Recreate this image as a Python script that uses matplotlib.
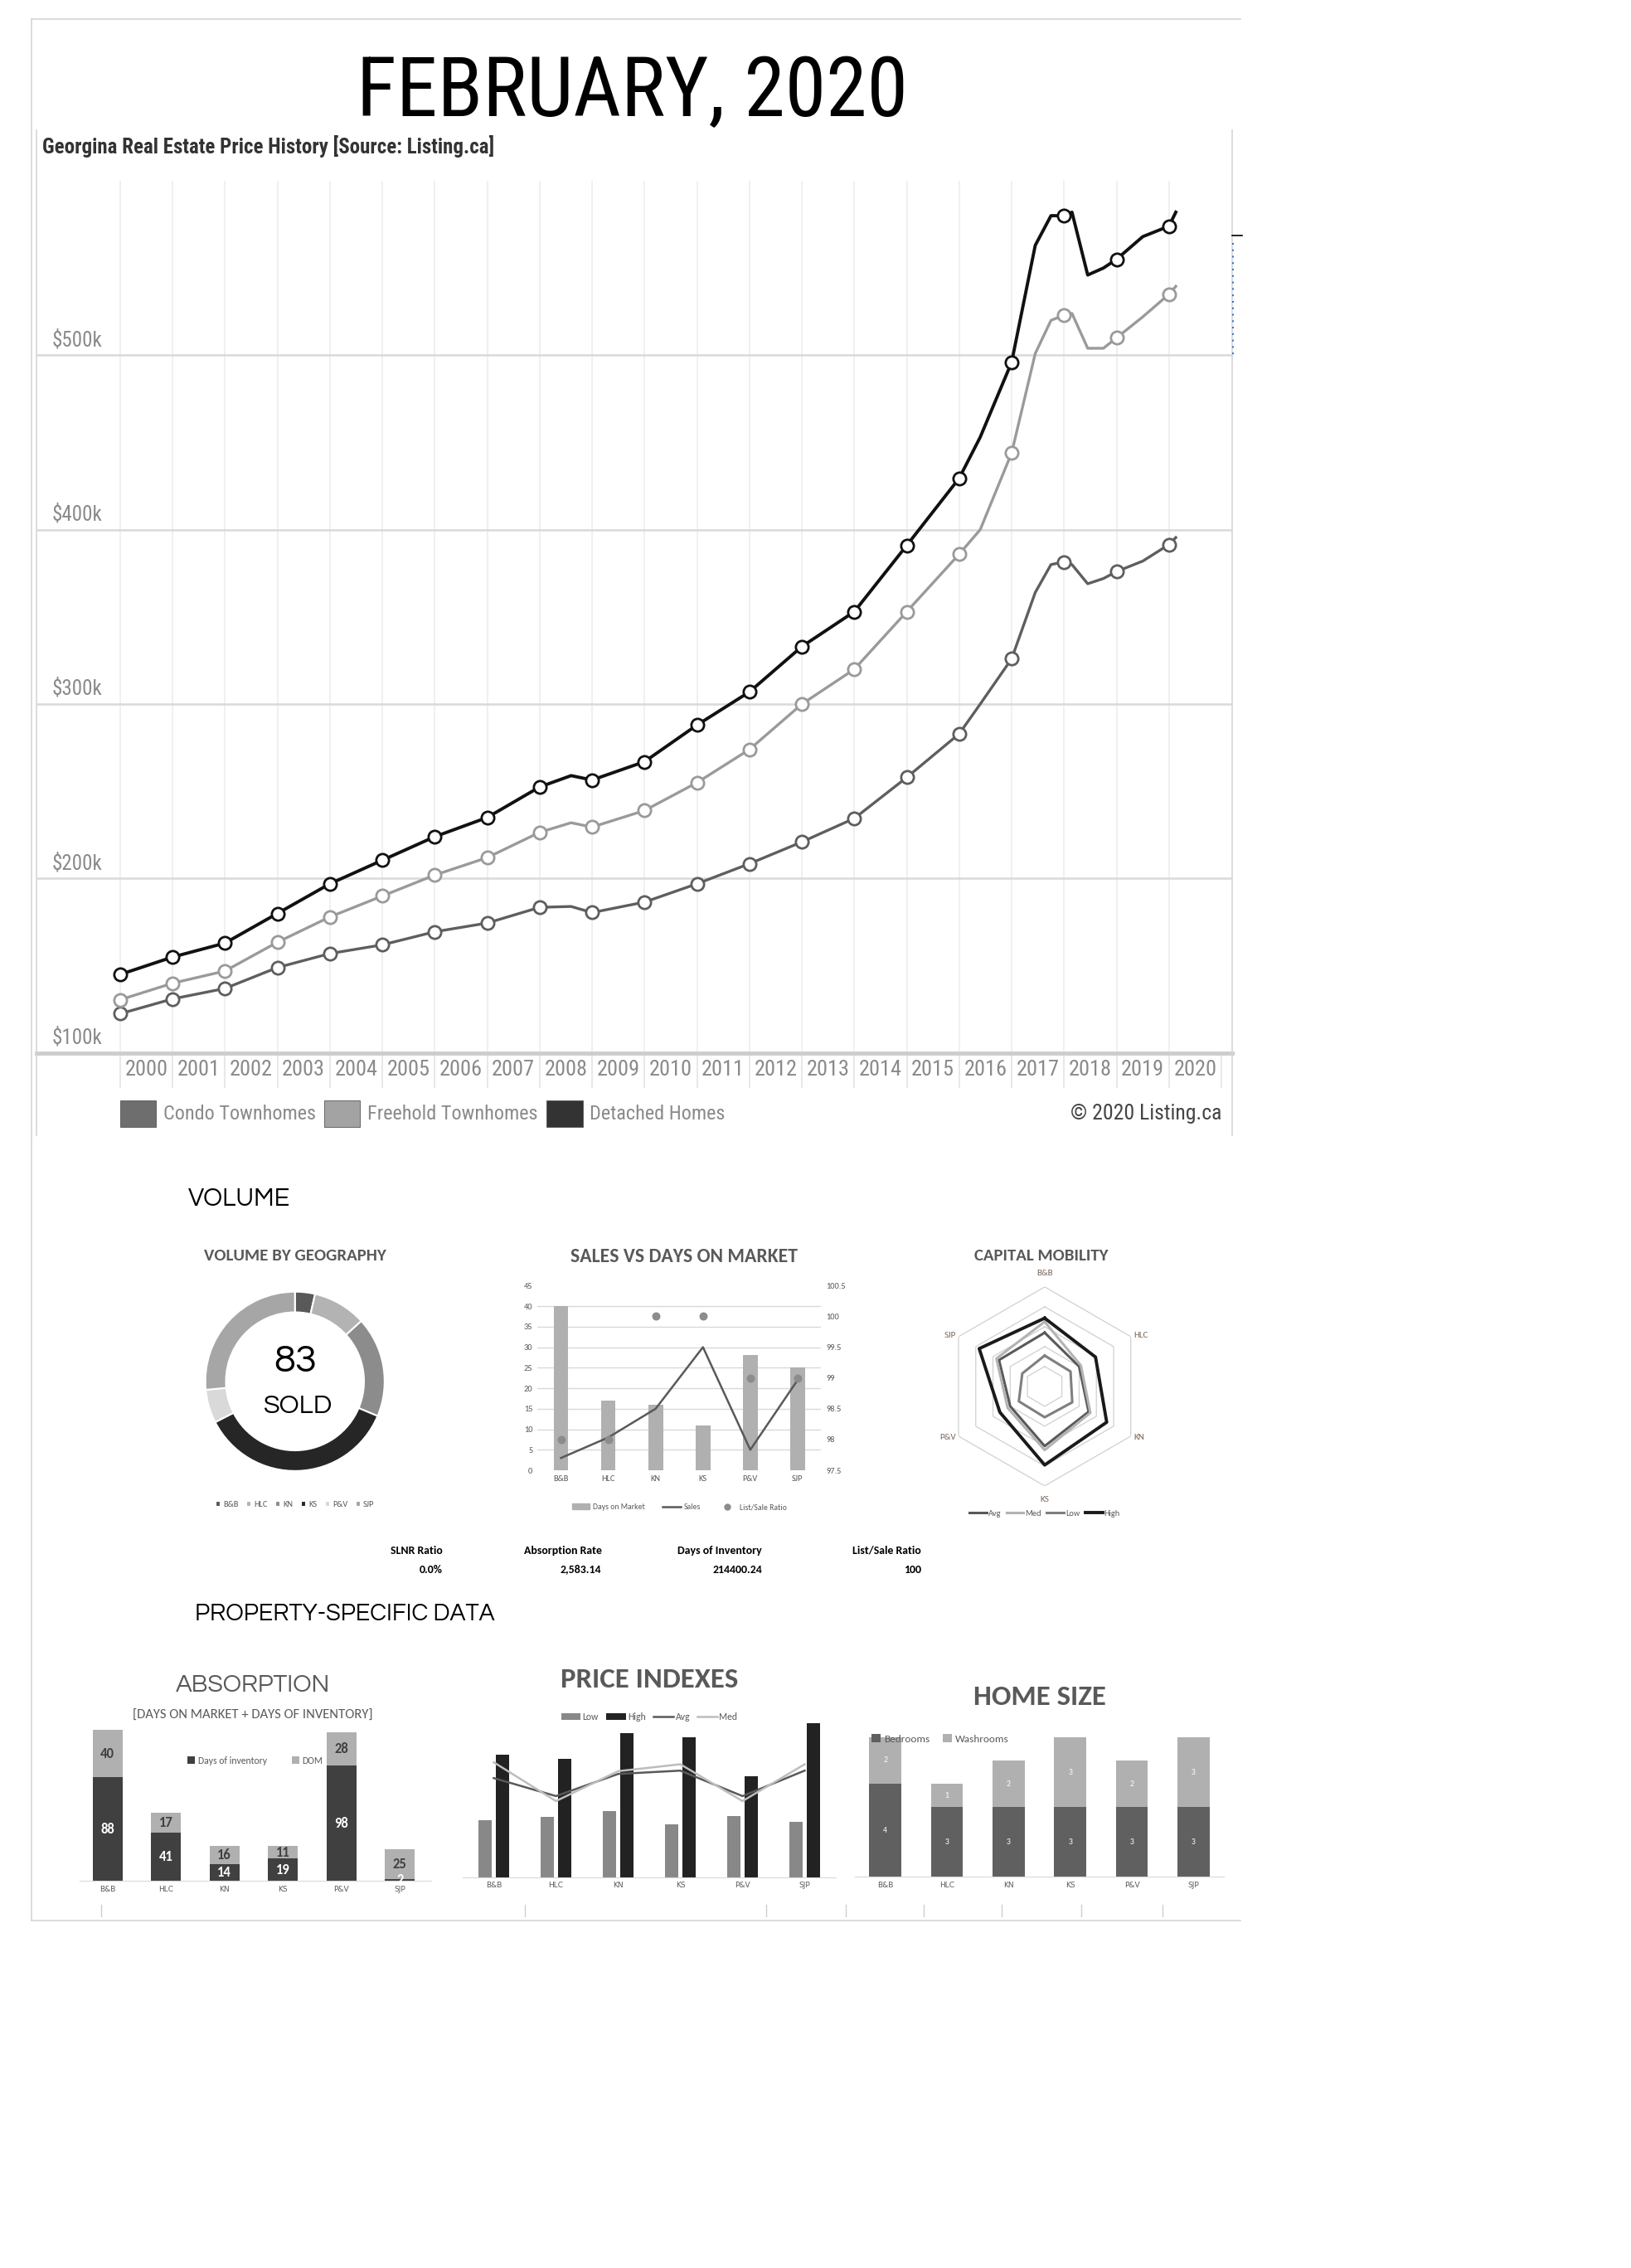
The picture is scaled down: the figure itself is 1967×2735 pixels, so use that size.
import matplotlib
matplotlib.use("Agg")
import matplotlib.pyplot as plt
from matplotlib.patches import Rectangle, Patch
from matplotlib.lines import Line2D
import numpy as np

# ---------------- data ----------------
# price history (thousands of $)
price_years = [2000, 2001, 2002, 2003, 2004, 2005, 2006, 2007, 2008, 2008.6, 2009, 2010,
               2011, 2012, 2013, 2014, 2015, 2016, 2016.4, 2017, 2017.45, 2017.75, 2018,
               2018.15, 2018.45, 2018.75, 2019, 2019.5, 2020, 2020.13]
detached = [145, 155, 163, 180, 197, 210.5, 224, 235, 252.5, 259, 256.5, 267,
            288, 307, 333, 353, 391, 429.5, 453, 496, 563, 580, 580,
            582, 546, 550, 555, 568, 574, 582]
freehold = [130.5, 140, 147, 163.5, 178, 190, 202, 212, 226.5, 232, 229.5, 239,
            255, 274, 300, 320, 353, 386, 400, 444, 501, 520, 523,
            524, 504, 504, 510, 522, 535, 539.5]
condo = [122.5, 131, 137, 149, 157, 162, 169.5, 174.5, 183.5, 184, 180.5, 186.5,
         197, 208.5, 221, 234.5, 258, 283, 300, 326, 364, 380, 381.5,
         380, 369, 372, 376, 382, 391.5, 395.5]
year_labels = list(range(2000, 2021))

areas = ["B&B", "HLC", "KN", "KS", "P&V", "SJP"]
sales = [3, 8, 15, 30, 5, 22]
days_on_market = [40, 17, 16, 11, 28, 25]
list_sale_ratio = [98, 98, 100, 100, 99, 99]

mob_avg = [2.7, 2.0, 2.55, 3.0, 2.0, 2.65]
mob_med = [3.25, 2.1, 2.65, 3.2, 2.15, 2.8]
mob_low = [1.55, 1.5, 1.6, 1.55, 1.5, 1.3]
mob_high = [3.43, 2.95, 3.6, 3.95, 2.6, 3.8]

stat_names = ["SLNR Ratio", "Absorption Rate", "Days of Inventory", "List/Sale Ratio"]
stat_values = ["0.0%", "2,583.14", "214400.24", "100"]

days_inventory = [88, 41, 14, 19, 98, 2]

price_low = [205, 217, 238, 190, 220, 199]
price_high = [442, 427, 520, 505, 364, 556]
price_avg = [358, 293, 373, 385, 293, 385]
price_med = [415, 275, 383, 408, 275, 408]

bedrooms = [4, 3, 3, 3, 3, 3]
washrooms = [2, 1, 2, 3, 2, 3]

# fonts
COND = "Roboto Condensed"   # web chart (Arial Narrow look)
CAL = "Carlito"             # Excel charts (Calibri metrics)
GOTH = "Questrial"          # Century Gothic style headings

# layout helpers (coordinates measured on a 1128x1568 copy of the page)
W, H = 1128, 1568


def box(x0, y0, x1, y1):
    return [x0 / W, 1 - y1 / H, (x1 - x0) / W, (y1 - y0) / H]


def fx(x):
    return x / W


def fy(y):
    return 1 - y / H


fig = plt.figure(figsize=(19.67, 27.35), dpi=100)
fig.patch.set_facecolor("white")

# page frame
frame = "#d6d6d6"
fig.add_artist(Line2D([fx(22), fx(858)], [fy(13), fy(13)], color=frame, lw=1.2))
fig.add_artist(Line2D([fx(22), fx(22)], [fy(13), fy(1328)], color=frame, lw=1.2))
fig.add_artist(Line2D([fx(22), fx(858)], [fy(1328), fy(1328)], color=frame, lw=1.2))
fig.add_artist(Line2D([fx(25), fx(25)], [fy(90), fy(785)], color=frame, lw=1.2))
fig.add_artist(Line2D([fx(852), fx(852)], [fy(90), fy(785)], color=frame, lw=1.2))
fig.add_artist(Line2D([fx(852), fx(859)], [fy(163), fy(163)], color="black", lw=1.2))
fig.add_artist(Line2D([fx(853), fx(853)], [fy(168), fy(246)], color="#1f6fd0", lw=1.4,
                      ls=(0, (1, 3))))
# little sheet-cell marks under the bottom charts
for xt in [70, 363, 530, 585, 639, 693, 748, 804]:
    fig.add_artist(Line2D([fx(xt), fx(xt)], [fy(1317), fy(1325)], color="#cfcfcf", lw=1))

fig.text(fx(437), fy(80), "FEBRUARY, 2020", ha="center", va="baseline", fontsize=72,
         family=COND, color="black")
fig.text(fx(29), fy(101), "Georgina Real Estate Price History [Source: Listing.ca]", ha="left",
         va="center", fontsize=18, fontweight="bold", family=COND, color="#333333")

# ---------------- price history ----------------
ax = fig.add_axes(box(25, 125, 852, 728))
marks = [i for i, y in enumerate(price_years) if float(y).is_integer()]
series = [(condo, "#5e5e5e", 2.4), (freehold, "#9a9a9a", 2.4), (detached, "#111111", 2.8)]
for vals, col, lw in series:
    ax.plot(price_years, vals, color=col, lw=lw, marker="o", markevery=marks, ms=11,
            mfc="white", mec=col, mew=2, zorder=3)
ax.set_xlim(1998.4, 2021.2)
ax.set_ylim(100, 600)
for yr in year_labels:
    ax.axvline(yr, color="#efefef", lw=1.3, zorder=0)
for v in [200, 300, 400, 500]:
    ax.axhline(v, color="#d9d9d9", lw=1.8, zorder=1)
for v in [100, 200, 300, 400, 500]:
    ax.text(0.0135, v + 3, f"${v}k", transform=ax.get_yaxis_transform(), ha="left",
            va="bottom", fontsize=18, family=COND, color="#8a8a8a")
for s in ["top", "left", "right"]:
    ax.spines[s].set_visible(False)
ax.spines["bottom"].set_color("#cdcdcd")
ax.spines["bottom"].set_linewidth(3.5)
ax.set_yticks([])
ax.set_xticks(list(range(2000, 2022)))
ax.set_xticklabels([])
ax.tick_params(axis="x", which="major", length=30, width=1.3, color="#e6e6e6")
ax.set_xticks([y + 0.5 for y in year_labels], minor=True)
ax.set_xticklabels([str(y) for y in year_labels], minor=True, fontsize=19, family=COND,
                   color="#8a8a8a")
ax.tick_params(axis="x", which="minor", length=0, pad=6)

legend_items = [(83, "#6e6e6e", "Condo Townhomes"), (224, "#a3a3a3", "Freehold Townhomes"),
                (378, "#333333", "Detached Homes")]
for x0, col, lab in legend_items:
    fig.add_artist(Rectangle((fx(x0), fy(779)), 25 / W, 18 / H, transform=fig.transFigure,
                             facecolor=col, edgecolor="#555555", lw=0.6))
    fig.text(fx(x0 + 30), fy(770), lab, ha="left", va="center", fontsize=17.5, family=COND,
             color="#8a8a8a")
fig.text(fx(845), fy(770), "\u00a9 2020 Listing.ca", ha="right", va="center", fontsize=18.5,
         family=COND, color="#444444")

# ---------------- section headers ----------------
fig.text(fx(130), fy(829), "VOLUME", ha="left", va="center", fontsize=22, family=GOTH,
         color="black")
fig.text(fx(135), fy(1116), "PROPERTY-SPECIFIC DATA", ha="left", va="center", fontsize=20.6,
         family=GOTH, color="black")

title_col = "#595959"
fig.text(fx(204), fy(868), "VOLUME BY GEOGRAPHY", ha="center", va="center", fontsize=15,
         family=CAL, fontweight="bold", color=title_col)
fig.text(fx(473), fy(869), "SALES VS DAYS ON MARKET", ha="center", va="center", fontsize=17,
         family=CAL, fontweight="bold", color=title_col)
fig.text(fx(720), fy(868), "CAPITAL MOBILITY", ha="center", va="center", fontsize=15,
         family=CAL, fontweight="bold", color=title_col)

# ---------------- donut ----------------
donut_cols = ["#595959", "#b3b3b3", "#8c8c8c", "#262626", "#d9d9d9", "#a6a6a6"]
axd = fig.add_axes(box(142, 893, 266, 1017))
wedges, _ = axd.pie(sales, colors=donut_cols, startangle=90, counterclock=False, radius=1,
                    wedgeprops=dict(width=0.23, edgecolor="white", linewidth=1.5))
axd.set_xlim(-1, 1)
axd.set_ylim(-1, 1)
axd.text(0, 0.22, str(sum(sales)), ha="center", va="center", fontsize=34, family=GOTH,
         color="black")
axd.text(0.03, -0.28, "SOLD", ha="center", va="center", fontsize=23, family=GOTH,
         color="black")
axd.legend(wedges, areas, loc="center", bbox_to_anchor=(0.5, -0.19), ncol=6,
           frameon=False, handlelength=0.6, handleheight=0.6, columnspacing=0.9,
           handletextpad=0.3, labelcolor="#595959", prop={"family": CAL, "size": 7.5})

# ---------------- sales vs days on market ----------------
x = np.arange(len(areas))
axs = fig.add_axes(box(371.6, 888.8, 568, 1016.5))
for v in range(5, 45, 5):
    axs.axhline(v, color="#d9d9d9", lw=1, zorder=0)
axs.bar(x, days_on_market, width=0.31, color="#b0b0b0", zorder=2)
axs.plot(x, sales, color="#595959", lw=1.8, zorder=3)
axs.set_xlim(-0.5, 5.5)
axs.set_ylim(0, 45)
axs.set_yticks(range(0, 50, 5))
axs.set_xticks(x, areas)
axs.tick_params(length=0, labelsize=7.5, colors="#595959", pad=4)
for lab in axs.get_xticklabels() + axs.get_yticklabels():
    lab.set_family(CAL)
for s in axs.spines.values():
    s.set_visible(False)
axr = axs.twinx()
axr.scatter(x, list_sale_ratio, s=38, color="#8c8c8c", zorder=4)
axr.set_ylim(97.5, 100.5)
axr.set_yticks([97.5, 98, 98.5, 99, 99.5, 100, 100.5],
               ["97.5", "98", "98.5", "99", "99.5", "100", "100.5"])
axr.tick_params(length=0, labelsize=7.5, colors="#595959", pad=4)
for lab in axr.get_yticklabels():
    lab.set_family(CAL)
for s in axr.spines.values():
    s.set_visible(False)
sales_handles = [Patch(color="#b0b0b0"), Line2D([], [], color="#595959", lw=1.8),
                 Line2D([], [], color="#8c8c8c", marker="o", ls="none", ms=5)]
axs.legend(sales_handles, ["Days on Market", "Sales", "List/Sale Ratio"], loc="center",
           bbox_to_anchor=(0.5, -0.2), ncol=3, frameon=False, handlelength=2.2,
           columnspacing=2.2, handletextpad=0.4, labelcolor="#595959",
           prop={"family": CAL, "size": 7})

# ---------------- capital mobility radar ----------------
axp = fig.add_axes(box(653.7, 889.7, 791.3, 1027.3), projection="polar")
axp.set_theta_zero_location("N")
axp.set_theta_direction(-1)
ang = np.deg2rad(np.arange(0, 360, 60))
ang_c = np.append(ang, ang[0])
for r in range(1, 6):
    axp.plot(ang_c, [r] * 7, color="#d0d0d0", lw=0.9, zorder=1)
radar = [(mob_avg, "#595959", 2.2, "Avg"), (mob_med, "#b3b3b3", 2.2, "Med"),
         (mob_low, "#7f7f7f", 2.2, "Low"), (mob_high, "#1a1a1a", 2.8, "High")]
handles = []
for vals, col, lw, lab in radar:
    axp.plot(ang_c, vals + vals[:1], color=col, lw=lw, zorder=3)
    handles.append(Line2D([], [], color=col, lw=lw, label=lab))
axp.set_ylim(0, 5)
axp.axis("off")
label_pos = [(5.5, "center", "bottom"), (5.15, "left", "center"), (5.15, "left", "center"),
             (5.5, "center", "top"), (5.15, "right", "center"), (5.15, "right", "center")]
for a, name, (r, ha, va) in zip(ang, areas, label_pos):
    axp.text(a, r, name, ha=ha, va=va, fontsize=8, family=CAL, color="#7a675a")
axp.legend(handles=handles, loc="center", bbox_to_anchor=(0.5, -0.14), ncol=4,
           frameon=False, handlelength=2.0, columnspacing=0.6, handletextpad=0.2,
           labelcolor="#595959", prop={"family": CAL, "size": 7.5})

# ---------------- stats row ----------------
for xr, name, val in zip([306, 416, 527, 637], stat_names, stat_values):
    fig.text(fx(xr), fy(1072), name, ha="right", va="center", fontsize=10, family=CAL,
             fontweight="bold", color="black")
    fig.text(fx(xr), fy(1085), val, ha="right", va="center", fontsize=10, family=CAL,
             fontweight="bold", color="black")

# ---------------- absorption ----------------
fig.text(fx(175), fy(1165), "ABSORPTION", ha="center", va="center", fontsize=21.4,
         family=GOTH, color="#595959")
fig.text(fx(175), fy(1186), "[DAYS ON MARKET + DAYS OF INVENTORY]", ha="center", va="center",
         fontsize=12, family=CAL, color="#595959")
axa = fig.add_axes(box(55, 1186.3, 298, 1300.5))
axa.bar(x, days_inventory, width=0.51, color="#404040", label="Days of inventory")
axa.bar(x, days_on_market, width=0.51, bottom=days_inventory, color="#b0b0b0", label="DOM")
for i in range(len(areas)):
    axa.text(x[i], days_inventory[i] / 2, str(days_inventory[i]), ha="center", va="center",
             fontsize=12, fontweight="bold", family=CAL, color="white")
    axa.text(x[i], days_inventory[i] + days_on_market[i] / 2, str(days_on_market[i]),
             ha="center", va="center", fontsize=12, fontweight="bold", family=CAL,
             color="#404040")
axa.set_xlim(-0.48, 5.53)
axa.set_ylim(0, 140)
axa.set_yticks([])
axa.set_xticks(x, areas)
axa.tick_params(length=0, labelsize=6.5, colors="#595959", pad=4)
for s in ["top", "left", "right"]:
    axa.spines[s].set_visible(False)
axa.spines["bottom"].set_color("#d9d9d9")
axa.legend(loc="upper center", bbox_to_anchor=(0.5, 0.81), ncol=2, frameon=False,
           handlelength=0.8, handleheight=0.8, columnspacing=2.5, handletextpad=0.3,
           labelcolor="#595959", prop={"family": CAL, "size": 8.5})

# ---------------- price indexes ----------------
fig.text(fx(449), fy(1161), "PRICE INDEXES", ha="center", va="center", fontsize=25,
         family=CAL, fontweight="bold", color="#595959")
axi = fig.add_axes(box(320, 1183, 578, 1297.8))
h_low = axi.bar(x - 0.14, price_low, width=0.22, color="#888888")
h_high = axi.bar(x + 0.14, price_high, width=0.22, color="#222222")
h_avg, = axi.plot(x, price_avg, color="#595959", lw=1.8)
h_med, = axi.plot(x, price_med, color="#bdbdbd", lw=1.8)
axi.set_xlim(-0.5, 5.5)
axi.set_ylim(0, 600)
axi.set_yticks([])
axi.set_xticks(x, areas)
axi.tick_params(length=0, labelsize=6.5, colors="#595959", pad=4)
for s in ["top", "left", "right"]:
    axi.spines[s].set_visible(False)
axi.spines["bottom"].set_color("#d9d9d9")
axi.legend([h_low, h_high, h_avg, h_med], ["Low", "High", "Avg", "Med"], loc="center",
           bbox_to_anchor=(0.5, 0.965), ncol=4, frameon=False, handlelength=2.0,
           handleheight=0.6, columnspacing=0.8, handletextpad=0.2, labelcolor="#595959",
           prop={"family": CAL, "size": 8.5})

# ---------------- home size ----------------
fig.text(fx(719), fy(1173), "HOME SIZE", ha="center", va="center", fontsize=25, family=CAL,
         fontweight="bold", color="#595959")
axh = fig.add_axes(box(591, 1196.2, 846.7, 1297.6))
axh.bar(x, bedrooms, width=0.52, color="#606060", label="Bedrooms")
axh.bar(x, washrooms, width=0.52, bottom=bedrooms, color="#b0b0b0", label="Washrooms")
for i in range(len(areas)):
    axh.text(x[i], bedrooms[i] / 2, str(bedrooms[i]), ha="center", va="center", fontsize=7,
             family=CAL, color="white")
    axh.text(x[i], bedrooms[i] + washrooms[i] / 2, str(washrooms[i]), ha="center",
             va="center", fontsize=7, family=CAL, color="white")
axh.set_xlim(-0.5, 5.5)
axh.set_ylim(0, 6.3)
axh.set_yticks([])
axh.set_xticks(x, areas)
axh.tick_params(length=0, labelsize=6.5, colors="#595959", pad=4)
for s in ["top", "left", "right"]:
    axh.spines[s].set_visible(False)
axh.spines["bottom"].set_color("#d9d9d9")
axh.legend(loc="upper left", bbox_to_anchor=(0.02, 1.04), ncol=2, frameon=False,
           handlelength=0.8, handleheight=0.8, columnspacing=1.2, handletextpad=0.3,
           labelcolor="#595959", prop={"family": CAL, "size": 9.5})

fig.savefig("out.png", dpi=100, facecolor="white")
